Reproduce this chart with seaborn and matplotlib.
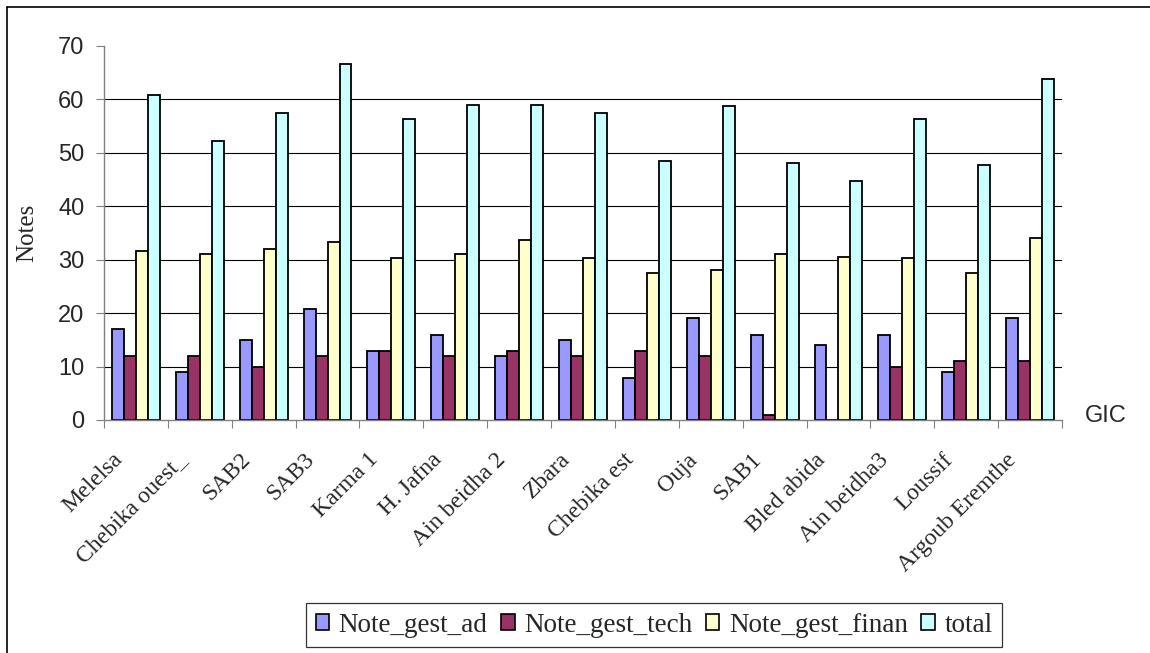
import numpy as np
import pandas as pd
import seaborn as sns
import matplotlib.pyplot as plt
from matplotlib.lines import Line2D
from matplotlib.transforms import ScaledTranslation

# GIC names and the four scores
gic = ["Melelsa", "Chebika ouest_", "SAB2", "SAB3", "Karma 1", "H. Jafna",
       "Ain beidha 2", "Zbara", "Chebika est", "Ouja", "SAB1", "Bled abida",
       "Ain beidha3", "Loussif", "Argoub Eremthe"]
note_gest_ad = [17, 9, 15, 20.8, 13, 16, 12, 15, 7.8, 19, 16, 14, 16, 9, 19]
note_gest_tech = [12, 12, 10, 12, 13, 12, 13, 12, 13, 12, 1, 0, 10, 11, 11]
note_gest_finan = [31.7, 31, 32, 33.4, 30.3, 31, 33.7, 30.3, 27.6, 28, 31, 30.6, 30.3, 27.6, 34.1]
total = [60.8, 52.3, 57.4, 66.6, 56.3, 59, 59, 57.4, 48.4, 58.7, 48.1, 44.8, 56.3, 47.8, 63.8]

series = ["Note_gest_ad", "Note_gest_tech", "Note_gest_finan", "total"]
colors = ["#9999FF", "#993366", "#FFFFCC", "#CCFFFF"]
yticks = [0, 10, 20, 30, 40, 50, 60, 70]

df = pd.DataFrame({"GIC": gic, "Note_gest_ad": note_gest_ad,
                   "Note_gest_tech": note_gest_tech,
                   "Note_gest_finan": note_gest_finan, "total": total})
long = df.melt(id_vars="GIC", var_name="serie", value_name="note")

sns.set_style("white")
plt.rcParams["font.family"] = ["Liberation Serif", "DejaVu Sans"]

fig = plt.figure(figsize=(11.5, 6.53), dpi=100)
ax = fig.add_axes([104 / 1150, 1 - 420 / 653, (1062 - 104) / 1150, (420 - 46) / 653])

# horizontal grid lines (not at 0 or 70)
ax.hlines(yticks[1:-1], 0, 1, transform=ax.get_yaxis_transform(),
          color="black", lw=0.8, zorder=0)

sns.barplot(data=long, x="GIC", y="note", hue="serie", hue_order=series,
            palette=colors, width=0.75, gap=0, edgecolor="black",
            linewidth=1.3, saturation=1, ax=ax, zorder=2)

ax.set_ylim(0, 70)
ax.set_xlim(-0.5, len(gic) - 0.5)
ax.set_yticks(yticks)
ax.set_yticklabels([str(t) for t in yticks], family="Liberation Sans", fontsize=17)
ax.tick_params(axis="y", direction="out", length=6, width=0.8, color="#808080",
               pad=8, left=True)

# category ticks sit between the groups
ax.set_xticks(np.arange(len(gic) + 1) - 0.5, minor=True)
ax.tick_params(axis="x", which="minor", direction="out", length=6, width=0.8,
               color="#808080", bottom=True)
ax.tick_params(axis="x", which="major", length=0, pad=21)
ax.set_xticklabels(gic, rotation=45, ha="right", va="top",
                   rotation_mode="anchor", fontsize=17)
offset = ScaledTranslation(-0.24, 0, fig.dpi_scale_trans)
for lab in ax.get_xticklabels():
    lab.set_transform(lab.get_transform() + offset)

for s in ["top", "right"]:
    ax.spines[s].set_visible(False)
for s in ["left", "bottom"]:
    ax.spines[s].set_color("#808080")
    ax.spines[s].set_linewidth(1)

ax.set_xlabel("")
ax.set_ylabel("Notes", fontsize=18)
ax.yaxis.set_label_coords(-0.069, 0.5)
fig.text(1085 / 1150, 1 - 422 / 653, "GIC", family="Liberation Sans",
         fontsize=17, ha="left", va="baseline")

ax.get_legend().remove()
handles = [plt.Rectangle((0, 0), 1, 1, facecolor=c, edgecolor="black", lw=1.2)
           for c in colors]
leg = fig.legend(handles, series, loc="center", ncol=4,
                 bbox_to_anchor=(654 / 1150, 1 - 625 / 653), fontsize=19.5,
                 frameon=True, fancybox=False, edgecolor="black",
                 handlelength=0.5, handleheight=0.5, handletextpad=0.35,
                 columnspacing=0.5, borderpad=0.35, borderaxespad=0)
leg.get_frame().set_linewidth(0.9)

# outer chart border (left and top visible)
fig.add_artist(Line2D([7 / 1150, 7 / 1150], [0, 1 - 7 / 653], color="black", lw=1.2))
fig.add_artist(Line2D([7 / 1150, 1], [1 - 7 / 653, 1 - 7 / 653], color="black", lw=1.2))

fig.savefig("out.png", dpi=100, facecolor="white")
